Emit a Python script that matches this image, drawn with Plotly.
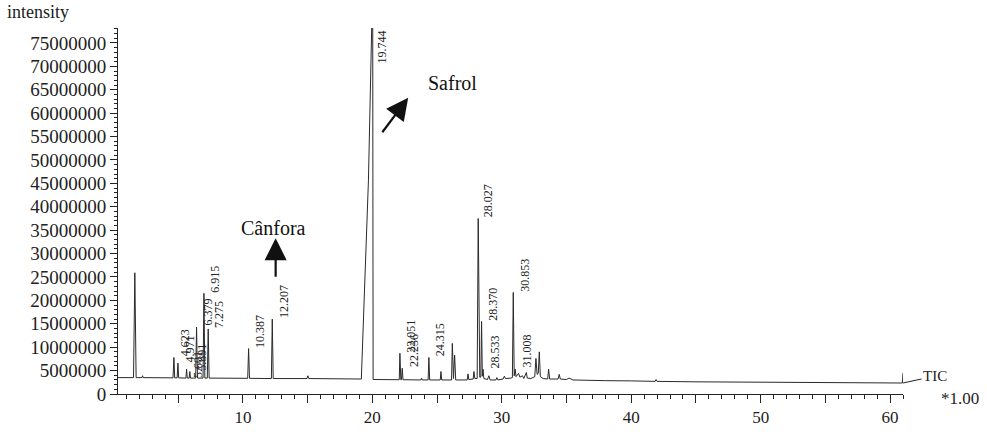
import plotly.graph_objects as go

# ---- chromatogram trace (retention time in min, intensity in millions of counts) ----
trace_time = [
    0.35, 1.55, 1.65, 1.75, 2.2, 2.25, 2.3,
    4.6, 4.67, 4.73, 4.92, 4.98, 5.04,
    5.6, 5.65, 5.7, 5.85, 5.9, 5.95,
    6.35, 6.42, 6.49, 6.92, 6.99, 7.06,
    7.25, 7.32, 7.39,
    10.37, 10.44, 10.51,
    12.2, 12.27, 12.34,
    14.95, 15.02, 15.09,
    19.15, 19.7, 19.95, 20.03, 20.06,
    22.08, 22.13, 22.2, 22.25, 22.31, 22.37,
    23.75, 23.8, 23.85,
    24.31, 24.37, 24.43,
    25.25, 25.3, 25.36,
    26.12, 26.18, 26.27, 26.36, 26.44,
    27.33, 27.39, 27.45, 27.79, 27.85, 27.92,
    28.1, 28.18, 28.3, 28.38, 28.44, 28.5, 28.55, 28.62,
    28.9, 29.0, 29.1, 29.55, 29.62, 29.7,
    30.1, 30.2, 30.3, 30.7,
    30.82, 30.89, 30.96, 31.04, 31.1, 31.3, 31.4, 31.6, 31.7, 31.9, 31.97, 32.25,
    32.55, 32.64, 32.73, 32.82, 32.9, 32.98, 33.2,
    33.55, 33.62, 33.7, 34.35, 34.44, 34.52, 35.0, 35.2, 35.5,
    36.0, 38.0, 40.0, 41.85, 41.92, 42.0, 45.0, 50.0, 55.0, 60.0, 60.95, 61.0,
]
trace_intensity_M = [
    3.5, 3.5, 25.9, 3.5, 3.5, 3.9, 3.5,
    3.45, 7.8, 3.45, 3.45, 6.6, 3.45,
    3.4, 5.3, 3.4, 3.4, 4.8, 3.4,
    3.4, 14.3, 3.4, 3.4, 21.5, 3.4,
    3.4, 13.9, 3.4,
    3.35, 9.7, 3.35,
    3.3, 16.0, 3.3,
    3.3, 3.9, 3.3,
    3.2, 45.7, 78.2, 78.2, 3.1,
    3.05, 8.7, 3.05, 3.05, 5.5, 3.05,
    3.0, 3.4, 3.0,
    3.0, 7.8, 3.0,
    3.0, 4.8, 3.0,
    3.0, 10.8, 3.3, 8.3, 3.0,
    3.0, 4.3, 3.1, 3.2, 4.8, 3.3,
    3.3, 37.5, 3.6, 3.6, 15.5, 3.8, 5.3, 3.3,
    3.1, 3.9, 3.0, 3.0, 3.5, 3.0,
    3.2, 3.8, 3.3, 3.4,
    3.5, 21.7, 3.9, 5.3, 3.7, 4.4, 3.6, 3.9, 3.3, 4.6, 3.4, 3.3,
    3.7, 7.6, 4.2, 4.4, 9.0, 3.7, 3.3,
    3.2, 5.3, 3.2, 3.2, 4.2, 3.2, 3.1, 3.4, 3.0,
    3.0, 2.85, 2.8, 2.7, 3.1, 2.7, 2.6, 2.5, 2.45, 2.4, 2.35, 4.5,
]

# ---- peak labels (retention time text) and apex intensity (millions) ----
peak_labels = ["4.623", "4.971", "5.601", "5.891", "6.379", "6.915", "7.275",
               "10.387", "12.207", "19.744", "22.051", "22.236", "24.315",
               "28.027", "28.370", "28.533", "30.853", "31.008"]
peak_apex_M = [7.8, 6.6, 3.3, 4.8, 14.3, 21.5, 13.9,
               9.7, 16.0, 78.2, 8.7, 5.5, 7.8,
               37.5, 15.5, 5.3, 21.7, 5.5]

x_tick_values = [5, 10, 15, 20, 25, 30, 35, 40, 45, 50, 55, 60]
x_tick_text = ["", "10", "", "20", "", "30", "", "40", "", "50", "", "60"]

Y_TOP = 78.2e6
X_RANGE = [0.35, 61.0]
INK = "#222222"
SERIF = "Liberation Serif, Times New Roman, serif"

fig = go.Figure()
fig.add_trace(go.Scatter(
    x=trace_time,
    y=[v * 1e6 for v in trace_intensity_M],
    mode="lines",
    line=dict(color="#2a2a2a", width=1),
    hoverinfo="skip",
))

annotations = []
for lab, h in zip(peak_labels, peak_apex_M):
    clipped = h * 1e6 >= Y_TOP
    annotations.append(dict(
        x=float(lab), y=min(h * 1e6, Y_TOP), xref="x", yref="y",
        text=lab, showarrow=False, textangle=-90,
        xanchor="center", yanchor="top" if clipped else "bottom",
        xshift=12, yshift=-1,
        font=dict(family=SERIF, size=12, color=INK),
    ))

# compound annotations
annotations += [
    dict(x=12.36, y=35.5e6, xref="x", yref="y", text="Cânfora", showarrow=False,
         font=dict(family=SERIF, size=20, color="#111")),
    dict(x=12.53, y=33.3e6, xref="x", yref="y", text="", showarrow=True,
         ax=0, ay=40, arrowhead=2, arrowsize=2.0, arrowwidth=2.2, arrowcolor="#111"),
    dict(x=26.2, y=66.5e6, xref="x", yref="y", text="Safrol", showarrow=False,
         font=dict(family=SERIF, size=20, color="#111")),
    dict(x=22.77, y=63.3e6, xref="x", yref="y", text="", showarrow=True,
         ax=-27, ay=36, arrowhead=2, arrowsize=2.0, arrowwidth=2.2, arrowcolor="#111"),
    dict(x=61.0, y=2.35e6, xref="x", yref="y", text="TIC", showarrow=True,
         ax=32, ay=-7, arrowhead=0, arrowwidth=1, arrowcolor=INK,
         font=dict(family=SERIF, size=15, color=INK)),
    dict(x=1.072, y=-0.011, xref="paper", yref="paper", text="*1.00", showarrow=False,
         xanchor="center", yanchor="middle",
         font=dict(family=SERIF, size=17, color=INK)),
    dict(x=-0.144, y=1.044, xref="paper", yref="paper", text="intensity",
         showarrow=False, xanchor="left", yanchor="middle",
         font=dict(family=SERIF, size=18, color=INK)),
]

fig.update_layout(
    width=987, height=434,
    margin=dict(l=118, r=84, t=28, b=40, autoexpand=False),
    plot_bgcolor="white", paper_bgcolor="white",
    showlegend=False,
    font=dict(family=SERIF, color=INK),
    annotations=annotations,
    xaxis=dict(
        range=X_RANGE, showgrid=False, zeroline=False, automargin=False,
        showline=True, linecolor=INK, linewidth=1,
        ticks="outside", ticklen=8, tickcolor=INK, tickwidth=1,
        tickmode="array", tickvals=x_tick_values, ticktext=x_tick_text,
        tickfont=dict(family=SERIF, size=17, color=INK),
        minor=dict(ticks="outside", ticklen=4, tickcolor=INK, tickmode="linear",
                   tick0=0, dtick=1, showgrid=False),
    ),
    yaxis=dict(
        range=[0, Y_TOP], showgrid=False, zeroline=False, automargin=False,
        showline=True, linecolor=INK, linewidth=1,
        ticks="outside", ticklen=7, tickcolor=INK, tickwidth=1,
        tick0=0, dtick=5e6, tickformat="d",
        tickfont=dict(family=SERIF, size=19, color=INK),
        minor=dict(ticks="outside", ticklen=3.5, tickcolor=INK,
                   tick0=0, dtick=1e6, showgrid=False),
    ),
)

fig.write_html(
    "out.html",
    config={"displayModeBar": False},
    post_script="document.body.style.margin='0';document.body.style.overflow='hidden';",
)
